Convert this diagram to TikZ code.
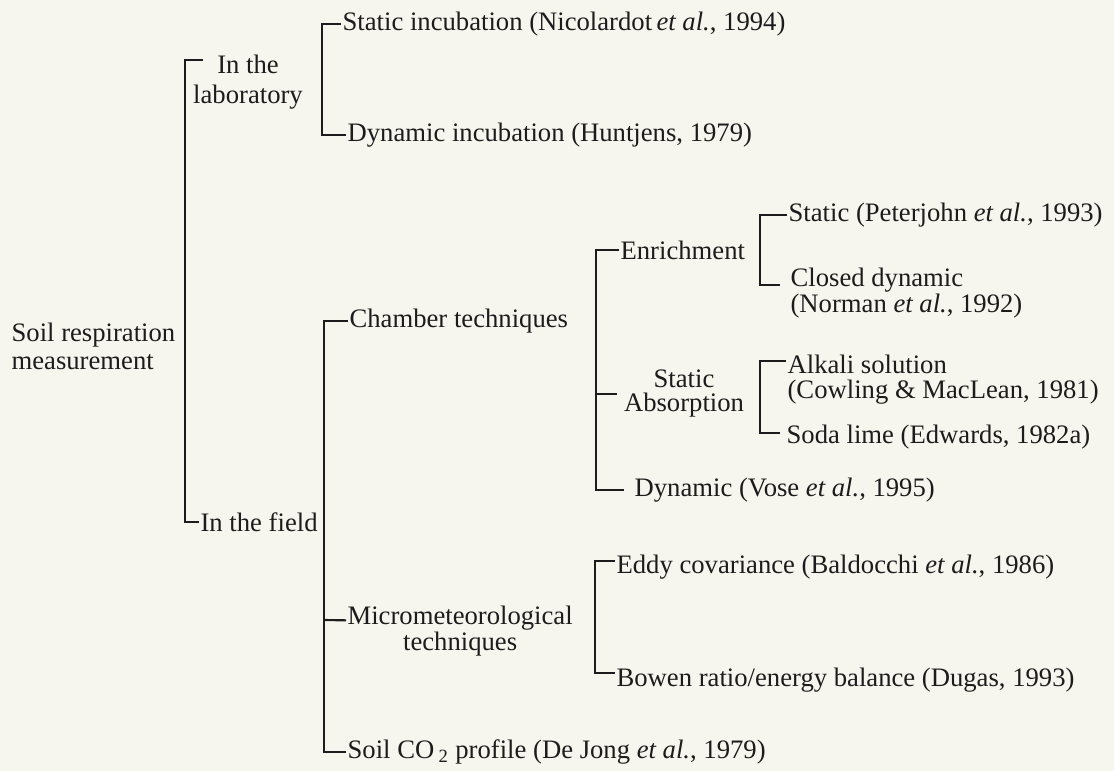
\documentclass[tikz,border=0pt]{standalone}
\usepackage{fontspec}
\setmainfont{Liberation Serif}
\usepackage{tikz}
\usetikzlibrary{positioning}
\definecolor{paper}{RGB}{247,246,238}
\definecolor{ink}{RGB}{28,28,28}

\begin{document}
\begin{tikzpicture}[x=0.75pt, y=-0.75pt,
  brk/.style={ink, line width=1.6pt, line join=miter},
  txt/.style={ink, anchor=west, inner sep=1pt, font=\fontsize{20}{24}\selectfont}]
  \fill[paper] (0,0) rectangle (1114,771);

  % spines of the brackets
  \coordinate (mainspine) at (185,300);
  \coordinate (labspine) at (322,80);
  \coordinate (fieldspine) at (324,500);
  \coordinate (chamspine) at (596,350);
  \coordinate (enrspine) at (760,250);
  \coordinate (absspine) at (760,400);
  \coordinate (micspine) at (595,620);
  \coordinate (labtick) at (203,60);

  % first level
  \node[txt, align=left, font=\fontsize{20}{21}\selectfont] (root) at (10,346) {Soil respiration\\measurement};
  \node[txt, anchor=center, align=center, font=\fontsize{20}{22.5}\selectfont] (lab) at (248,82) {In the\\laboratory};
  \node[txt] (field) at (199,522) {In the field};

  % in the laboratory
  \node[txt] (statinc) at (341,24) {Static incubation (Nicolardot\,\textit{et al.}, 1994)};
  \node[txt] (dyninc) at (346,135) {Dynamic incubation (Huntjens, 1979)};

  % in the field
  \node[txt] (chamber) at (348,321) {Chamber techniques};
  \node[txt, align=center, font=\fontsize{20}{17}\selectfont] (micro) at (346,631) {Micrometeorological\\techniques};
  \node[txt] (soilco) at (346,752) {Soil CO\,\textsubscript{2} profile (De Jong \textit{et al.}, 1979)};

  % chamber techniques
  \node[txt] (enr) at (619,250) {Enrichment};
  \node[txt, anchor=center, align=center, font=\fontsize{20}{18}\selectfont] (statabs) at (684,394) {Static\\Absorption};
  \node[txt] (dynvose) at (633,490) {Dynamic (Vose \textit{et al.}, 1995)};

  \node[txt] (statpj) at (787,215) {Static (Peterjohn \textit{et al.}, 1993)};
  \node[txt, align=left, font=\fontsize{20}{19.5}\selectfont] (closeddyn) at (789,293) {Closed dynamic\\(Norman \textit{et al.}, 1992)};
  \node[txt, align=left, font=\fontsize{20}{18.75}\selectfont] (alkali) at (786,380) {Alkali solution\\(Cowling \& MacLean, 1981)};
  \node[txt] (soda) at (785,437) {Soda lime (Edwards, 1982a)};

  % micrometeorological techniques
  \node[txt] (eddy) at (615,567) {Eddy covariance (Baldocchi \textit{et al.}, 1986)};
  \node[txt] (bowen) at (615,680) {Bowen ratio/energy balance (Dugas, 1993)};

  % brackets
  \draw[brk] (labtick) -| (mainspine) |- (field.west);
  \draw[brk] (statinc.west) -| (labspine) |- (dyninc.west);
  \draw[brk] (chamber.west) -| (fieldspine) |- (soilco.west);
  \draw[brk] (fieldspine |- micro.west) ++(0,-11) -- ([yshift=8pt]micro.west);
  \draw[brk, shorten >=7pt] (enr.west) -| (chamspine) |- (dynvose.west);
  \draw[brk, shorten >=4pt] (chamspine |- statabs.west) -- (statabs.west);
  \draw[brk, shorten >=7pt] (statpj.west) -| (enrspine) |- ([yshift=6pt]closeddyn.west);
  \draw[brk, shorten >=4pt] ([yshift=14pt]alkali.west) -| (absspine) |- ([yshift=3pt]soda.west);
  \draw[brk] ([yshift=4.5pt]eddy.west) -| (micspine) |- ([yshift=5pt]bowen.west);
\end{tikzpicture}
\end{document}
